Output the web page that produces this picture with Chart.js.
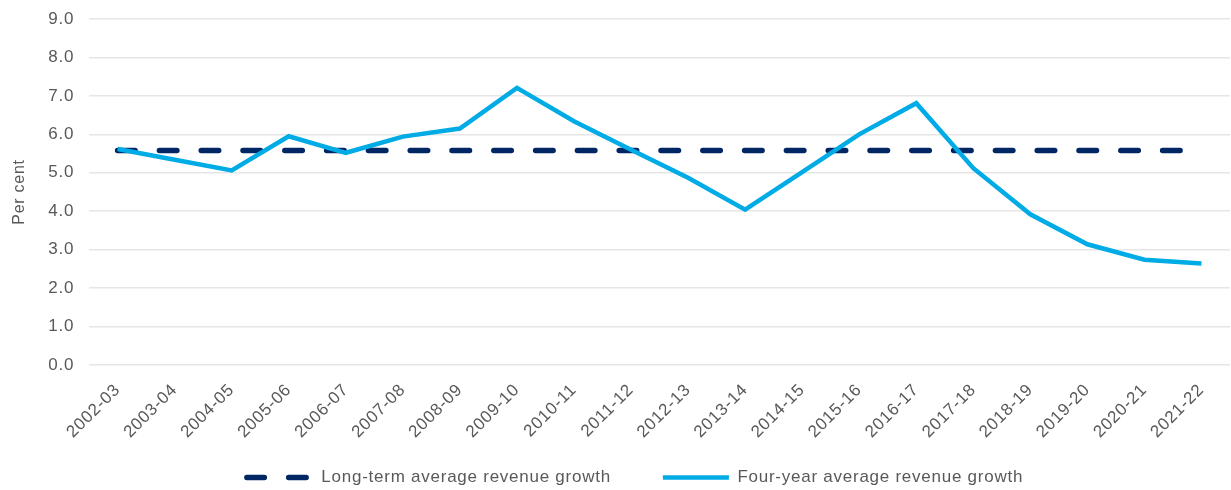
<!DOCTYPE html>
<html>
<head>
<meta charset="utf-8">
<script src="https://cdn.jsdelivr.net/npm/chart.js@4/dist/chart.umd.min.js"></script>
<style>
  html, body { margin: 0; padding: 0; background: #ffffff; }
  #wrap { width: 1231px; height: 490px; position: relative; }
</style>
</head>
<body>
<div id="wrap"><canvas id="chart"></canvas></div>
<script>
// Financial years on the x axis
const years = ['2002-03', '2003-04', '2004-05', '2005-06', '2006-07', '2007-08', '2008-09',
    '2009-10', '2010-11', '2011-12', '2012-13', '2013-14', '2014-15', '2015-16', '2016-17',
    '2017-18', '2018-19', '2019-20', '2020-21', '2021-22'];

// Per cent
const longTermAverage = [5.58, 5.58, 5.58, 5.58, 5.58, 5.58, 5.58, 5.58, 5.58, 5.58,
    5.58, 5.58, 5.58, 5.58, 5.58, 5.58, 5.58, 5.58, 5.58, 5.58];
const fourYearAverage = [5.62, 5.34, 5.06, 5.95, 5.52, 5.94, 6.15, 7.21, 6.34, 5.6,
    4.87, 4.04, 5.02, 6.0, 6.81, 5.12, 3.92, 3.14, 2.74, 2.64];

const yTicks = [0, 1, 2, 3, 4, 5, 6, 7, 8, 9];

const textColour = '#595959';
const fontFamily = '"Liberation Sans", Arial, sans-serif';
const legendPadding = 52;

// the original text is a bit spaced out, canvas needs it set after every resize
const letterSpacing = {
    id: 'letterSpacing',
    beforeUpdate(chart) { chart.ctx.letterSpacing = '0.75px'; },
    beforeDraw(chart) { chart.ctx.letterSpacing = '0.75px'; }
};

// legend takes little room in the layout (so the x labels get it),
// then its box is grown upwards again so the labels are not clipped
const legendTweak = {
    id: 'legendTweak',
    beforeInit(chart) {
        const legend = chart.legend;
        const fit = legend.fit;
        legend.fit = function () {
            fit.call(this);
            this.height = 20;
        };
    },
    afterLayout(chart) {
        const legend = chart.legend;
        legend.top = legend.bottom - (legendPadding + 19);
        legend.left += 16;
        legend.right += 16;
    }
};

const ctx = document.getElementById('chart');

const chart = new Chart(ctx, {
    type: 'line',
    data: {
        labels: years,
        datasets: [{
            label: 'Long-term average revenue growth',
            data: longTermAverage,
            borderColor: '#002664',
            backgroundColor: '#002664',
            borderWidth: 5.5,
            borderDash: [17.5, 24.3],
            borderCapStyle: 'round',
            pointRadius: 0,
            fill: false,
            order: 2
        }, {
            label: 'Four-year average revenue growth',
            data: fourYearAverage,
            borderColor: '#00ABE6',
            backgroundColor: '#00ABE6',
            borderWidth: 4.5,
            borderCapStyle: 'butt',
            borderJoinStyle: 'miter',
            pointRadius: 0,
            tension: 0,
            fill: false,
            order: 1
        }]
    },
    options: {
        responsive: true,
        maintainAspectRatio: false,
        animation: false,
        layout: { padding: { left: 8, right: 1, top: 19, bottom: 2 } },
        plugins: {
            tooltip: { enabled: false },
            legend: {
                position: 'bottom',
                labels: {
                    usePointStyle: true,
                    pointStyleWidth: 66,
                    boxHeight: 10,
                    padding: legendPadding,
                    color: textColour,
                    font: { family: fontFamily, size: 17 },
                    generateLabels: chart => {
                        const items = Chart.defaults.plugins.legend.labels.generateLabels(chart);
                        items.sort((a, b) => a.datasetIndex - b.datasetIndex);
                        items.forEach(item => {
                            const ds = chart.data.datasets[item.datasetIndex];
                            item.pointStyle = 'line';
                            item.lineDash = ds.borderDash || [];
                            item.lineCap = ds.borderCapStyle;
                            item.lineWidth = ds.borderWidth;
                            item.strokeStyle = ds.borderColor;
                        });
                        return items;
                    }
                }
            }
        },
        scales: {
            x: {
                offset: true,
                grid: { display: false },
                border: { display: false },
                afterFit: scale => { scale.height = 103; },
                ticks: {
                    color: textColour,
                    font: { family: fontFamily, size: 17 },
                    minRotation: 45,
                    maxRotation: 45,
                    autoSkip: false,
                    padding: 7
                }
            },
            y: {
                min: 0,
                max: 9,
                afterBuildTicks: axis => { axis.ticks = yTicks.map(v => ({ value: v })); },
                afterFit: scale => { scale.paddingTop = 0; },
                grid: { color: '#e6e6e6', lineWidth: 1.5, drawTicks: false },
                border: { display: false },
                title: {
                    display: true,
                    text: 'Per cent',
                    color: textColour,
                    font: { family: fontFamily, size: 16 },
                    padding: { top: 2, bottom: 4 }
                },
                ticks: {
                    color: textColour,
                    font: { family: fontFamily, size: 17 },
                    padding: 15,
                    callback: v => Number(v).toFixed(1)
                }
            }
        }
    },
    plugins: [letterSpacing, legendTweak]
});
</script>
</body>
</html>
